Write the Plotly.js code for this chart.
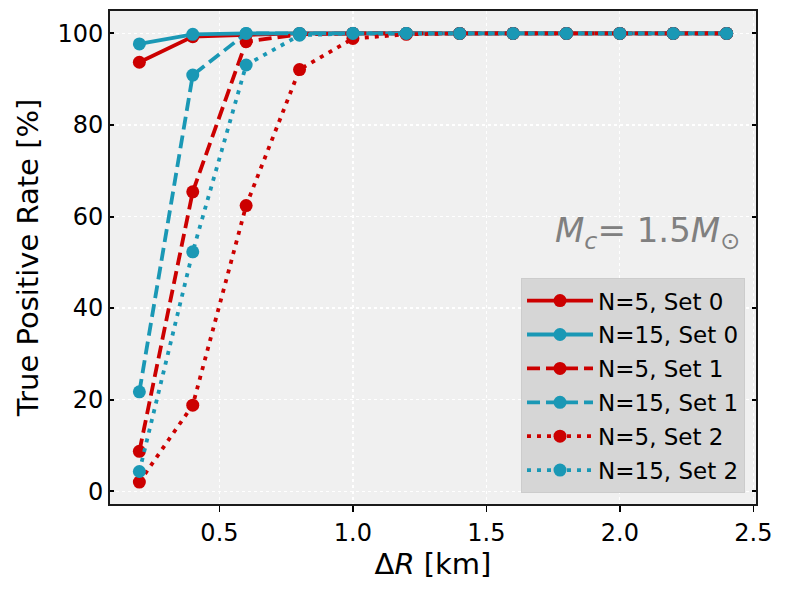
<!DOCTYPE html>
<html>
<head>
<meta charset="utf-8">
<script src="https://cdn.plot.ly/plotly-3.0.1.min.js"></script>
<style>body{margin:0;padding:0;background:#fff}</style>
</head>
<body>
<div id="chart" style="width:788px;height:595px"></div>
<script>
const deltaR = [0.2, 0.4, 0.6, 0.8, 1.0, 1.2, 1.4, 1.6, 1.8, 2.0, 2.2, 2.4];
const n5set0  = [93.7, 99.3, 99.7, 100, 100, 100, 100, 100, 100, 100, 100, 100];
const n15set0 = [97.7, 99.8, 100, 100, 100, 100, 100, 100, 100, 100, 100, 100];
const n5set1  = [8.7, 65.4, 98.2, 99.8, 100, 100, 100, 100, 100, 100, 100, 100];
const n15set1 = [21.7, 90.9, 100, 100, 100, 100, 100, 100, 100, 100, 100, 100];
const n5set2  = [2.0, 18.8, 62.4, 92.1, 98.9, 99.8, 100, 100, 100, 100, 100, 100];
const n15set2 = [4.3, 52.3, 93.1, 99.6, 100, 100, 100, 100, 100, 100, 100, 100];
const seriesNames = ["N=5, Set 0", "N=15, Set 0", "N=5, Set 1", "N=15, Set 1", "N=5, Set 2", "N=15, Set 2"];
const xTicks = [0.5, 1.0, 1.5, 2.0, 2.5];
const yTicks = [0, 20, 40, 60, 80, 100];

const RED = "#cc0000", CYAN = "#1a98b5";
const values = [n5set0, n15set0, n5set1, n15set1, n5set2, n15set2];
const colors = [RED, CYAN, RED, CYAN, RED, CYAN];
const dashes = ["solid", "solid", "13px,6px", "13px,6px", "4px,6px", "4px,6px"];

const traces = values.map((v, i) => ({
  x: deltaR, y: v, name: seriesNames[i], type: "scatter", mode: "lines+markers",
  legendgroup: "g" + i,
  line: {color: colors[i], width: 3.8, dash: dashes[i]},
  marker: {color: colors[i], size: 13}
}));

const font = "DejaVu Sans, sans-serif";
const layout = {
  width: 788, height: 595,
  margin: {l: 110, r: 32, t: 11, b: 91},
  paper_bgcolor: "#ffffff", plot_bgcolor: "#f0f0f0",
  font: {family: font, color: "#000", size: 24},
  showlegend: true,
  xaxis: {
    range: [0.09, 2.51], tickvals: xTicks, ticktext: xTicks.map(t => t.toFixed(1)),
    ticks: "outside", ticklen: 6, tickwidth: 1.5, tickcolor: "#000",
    showline: true, linecolor: "#1a1a1a", linewidth: 2, mirror: true,
    showgrid: true, gridcolor: "#ffffff", gridwidth: 1.2, griddash: "dot",
    zeroline: false, tickfont: {size: 24, family: font},
    title: {text: "Δ<i>R</i> [km]", font: {size: 29, family: font}, standoff: 4}
  },
  yaxis: {
    range: [-2.8, 104.9], tickvals: yTicks,
    ticks: "inside", ticklen: 4, tickwidth: 2, tickcolor: "#000",
    showline: true, linecolor: "#1a1a1a", linewidth: 2, mirror: "ticks",
    showgrid: true, gridcolor: "#ffffff", gridwidth: 1.2, griddash: "dot",
    zeroline: false, tickfont: {size: 24, family: font},
    title: {text: "True Positive Rate [%]", font: {size: 29, family: font}, standoff: 10}
  },
  legend: {
    x: 0.983, y: 0.022, xanchor: "right", yanchor: "bottom",
    bgcolor: "#d6d6d6", bordercolor: "#cccccc", borderwidth: 1,
    font: {size: 23, family: font}, tracegroupgap: 1, itemwidth: 66
  },
  annotations: [{
    xref: "paper", yref: "paper", x: 0.978, y: 0.55, xanchor: "right", yanchor: "middle",
    showarrow: false,
    text: "<i>M</i><sub><i>c</i></sub>= 1.5<i>M</i><sub>⊙</sub>",
    font: {size: 34, color: "#808080", family: font}
  }]
};
Plotly.newPlot("chart", traces, layout, {displayModeBar: false, staticPlot: true});
</script>
</body>
</html>
